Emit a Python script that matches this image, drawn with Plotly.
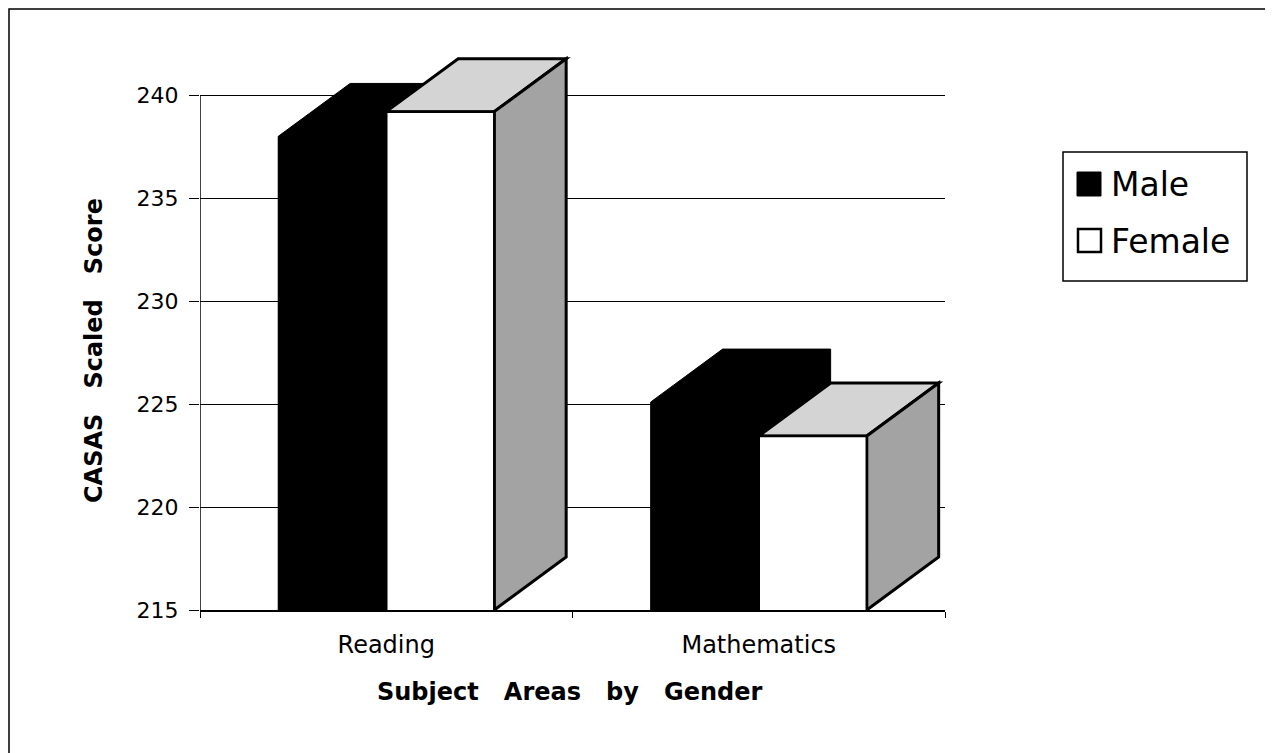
import plotly.graph_objects as go

# ---- data ----
categories = ["Reading", "Mathematics"]
series_names = ["Male", "Female"]
male_scores = [238.0, 225.1]
female_scores = [239.2, 223.45]
y_ticks = [215, 220, 225, 230, 235, 240]
y_title = "CASAS   Scaled   Score"
x_title = "Subject   Areas   by   Gender"

# ---- geometry / style ----
W, H = 1273, 753
OFF = 8                     # page body margin
L, R, T, B = 192, 336, 46, 151
y_min, y_max = 215, 242
cat_pos = [i + 0.5 for i in range(len(categories))]
bw = 0.29           # bar width (x units)
dx = 0.193          # 3D depth offset in x units
dy = 2.57           # 3D depth offset in y units
FONT = "DejaVu Sans"
top_col = "#d4d4d4"
side_col = "#a3a3a3"

plot_w = W - L - R
plot_h = H - T - B


def px(sx):
    return (sx - OFF - L) / plot_w


def py(sy):
    return (H - B - (sy - OFF)) / plot_h


fig = go.Figure()

# front faces as bars
fig.add_trace(go.Bar(x=cat_pos, y=male_scores, width=bw, offset=-bw, name=series_names[0],
                     marker=dict(color="black", line=dict(width=0)), showlegend=False))
fig.add_trace(go.Bar(x=cat_pos, y=female_scores, width=bw, offset=0, name=series_names[1],
                     marker=dict(color="white", line=dict(color="black", width=2.5)), showlegend=False))

shapes = []


def poly(points):
    return "M " + " L ".join(f"{a},{b}" for a, b in points) + " Z"


# male 3D extrusion (drawn behind bars)
for c, v in zip(cat_pos, male_scores):
    x0, x1 = c - bw, c
    shapes.append(dict(type="path", xref="x", yref="y", layer="between",
                       path=poly([(x0, v), (x0 + dx, v + dy), (x1 + dx, v + dy),
                                  (x1 + dx, y_min + dy), (x1, y_min), (x0, y_min)]),
                       fillcolor="black", line=dict(color="black", width=1)))
# female top and side faces
for c, v in zip(cat_pos, female_scores):
    x1, x2 = c, c + bw
    shapes.append(dict(type="path", xref="x", yref="y", layer="between",
                       path=poly([(x1, v), (x1 + dx, v + dy), (x2 + dx, v + dy), (x2, v)]),
                       fillcolor=top_col, line=dict(color="black", width=3)))
    shapes.append(dict(type="path", xref="x", yref="y", layer="between",
                       path=poly([(x2, v), (x2 + dx, v + dy), (x2 + dx, y_min + dy), (x2, y_min)]),
                       fillcolor=side_col, line=dict(color="black", width=3)))

# left value axis line (215..240)
shapes.append(dict(type="line", xref="x", yref="y", x0=0, x1=0, y0=y_ticks[0], y1=y_ticks[-1],
                   line=dict(color="black", width=1.5)))

# outer frame
shapes.append(dict(type="rect", xref="paper", yref="paper", x0=px(9), x1=px(1300), y0=py(9), y1=py(800),
                   line=dict(color="black", width=1.5), fillcolor="rgba(0,0,0,0)"))

# legend (custom)
shapes.append(dict(type="rect", xref="paper", yref="paper", x0=px(1063), x1=px(1247), y0=py(152), y1=py(281),
                   line=dict(color="black", width=1.5), fillcolor="white"))
shapes.append(dict(type="rect", xref="paper", yref="paper", x0=px(1077), x1=px(1101), y0=py(172), y1=py(196),
                   line=dict(color="black", width=1), fillcolor="black"))
shapes.append(dict(type="rect", xref="paper", yref="paper", x0=px(1078), x1=px(1101), y0=py(229), y1=py(252),
                   line=dict(color="black", width=2.5), fillcolor="white"))

annotations = [
    dict(text=series_names[0], xref="paper", yref="paper", x=px(1109), y=py(184),
         xanchor="left", yanchor="middle", showarrow=False, font=dict(family=FONT, size=33, color="black")),
    dict(text=series_names[1], xref="paper", yref="paper", x=px(1109), y=py(241),
         xanchor="left", yanchor="middle", showarrow=False, font=dict(family=FONT, size=33, color="black")),
    dict(text=f"<b>{y_title}</b>", xref="paper", yref="paper", x=px(94), y=py(351), textangle=-90,
         xanchor="center", yanchor="middle", showarrow=False, font=dict(family=FONT, size=24, color="black")),
    dict(text=f"<b>{x_title}</b>", xref="paper", yref="paper", x=px(569), y=py(692),
         xanchor="center", yanchor="middle", showarrow=False, font=dict(family=FONT, size=24, color="black")),
]

fig.update_layout(
    width=W, height=H,
    margin=dict(l=L, r=R, t=T, b=B),
    paper_bgcolor="white", plot_bgcolor="white",
    showlegend=False,
    barmode="overlay",
    shapes=shapes,
    annotations=annotations,
    xaxis=dict(range=[0, len(categories)], tickmode="array", tickvals=cat_pos, ticktext=categories,
               ticks="", showgrid=False, zeroline=False, showline=True, linecolor="black", linewidth=1.5,
               ticklabelstandoff=12, tickfont=dict(family=FONT, size=24, color="black"),
               minor=dict(tickmode="array", tickvals=[0, 1, 2], ticks="outside", ticklen=6,
                          tickcolor="black", tickwidth=1, showgrid=False)),
    yaxis=dict(range=[y_min, y_max], tickmode="array", tickvals=y_ticks, ticks="outside", ticklen=10,
               tickcolor="black", tickwidth=1, showgrid=True, gridcolor="black", gridwidth=1,
               showline=False, zeroline=False, ticklabelstandoff=6,
               tickfont=dict(family=FONT, size=22, color="black")),
)

fig.write_html("out.html")
